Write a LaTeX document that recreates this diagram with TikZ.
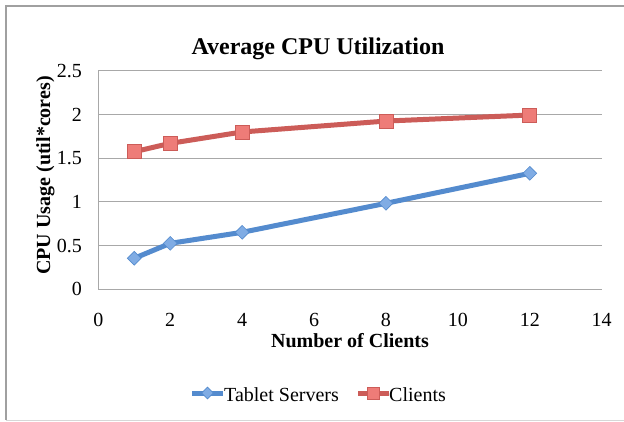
\documentclass[tikz,border=0pt]{standalone}
\usepackage{fontspec}
\setmainfont{Liberation Serif}
\usetikzlibrary{shapes.geometric}
\definecolor{gridgray}{RGB}{168,168,168}
\definecolor{framegray}{RGB}{160,160,160}
\definecolor{framelight}{RGB}{215,215,215}
\definecolor{tsblue}{RGB}{84,139,206}
\definecolor{tsfill}{RGB}{128,172,228}
\definecolor{clred}{RGB}{204,92,88}
\definecolor{clfill}{RGB}{238,124,120}

\begin{document}
\begin{tikzpicture}[x=1pt,y=-1pt,
        grid line/.style={draw=gridgray, line width=1pt},
        tick label/.style={font=\fontsize{20}{24}\selectfont, inner sep=0pt},
        axis title/.style={font=\bfseries\fontsize{20}{24}\selectfont, inner sep=0pt},
        ts line/.style={tsblue, line width=5pt, line join=round, line cap=round},
        cl line/.style={clred, line width=5pt, line join=round, line cap=round},
        ts marker/.style={diamond, fill=tsfill, draw=tsblue, line width=0.6pt, minimum size=14pt, inner sep=0pt},
        cl marker/.style={rectangle, fill=clfill, draw=clred, line width=0.8pt, minimum size=14pt, inner sep=0pt}]
            \useasboundingbox (0,0) rectangle (624,421);
            \clip (0,0) rectangle (624,421);
            \fill[white] (0,0) rectangle (624,421);
            \draw[framegray, line width=1.2pt] (640,6) -- (6,6) -- (6,420);
            \draw[framelight, line width=1.2pt] (6,420.3) -- (640,420.3);
            % title and axis titles
            \node[font=\bfseries\fontsize{24}{28}\selectfont, anchor=base, inner sep=0pt] (title) at (318,54) {Average CPU Utilization};
            \node[axis title, rotate=90, anchor=base] (ytitle) at (50,175.5) {CPU Usage (util*cores)};
            \node[axis title, anchor=base] (xtitle) at (350,347) {Number of Clients};
            \begin{scope}[shift={(98.3,289.3)}, x=35.96pt, y=87.4pt]
                % grid and axes
                \draw[grid line] (0,0.5) -- (14,0.5);
                \draw[grid line] (0,1) -- (14,1);
                \draw[grid line] (0,1.5) -- (14,1.5);
                \draw[grid line] (0,2) -- (14,2);
                \draw[grid line] (0,2.5) -- (14,2.5);
                \draw[grid line] (0,2.5) -- (0,0) -- (14,0);
                % y tick labels
                \node[tick label, anchor=east] (y0) at (-0.45,0) {0};
                \node[tick label, anchor=east] (y05) at (-0.45,0.5) {0.5};
                \node[tick label, anchor=east] (y1) at (-0.45,1) {1};
                \node[tick label, anchor=east] (y15) at (-0.45,1.5) {1.5};
                \node[tick label, anchor=east] (y2) at (-0.45,2) {2};
                \node[tick label, anchor=east] (y25) at (-0.45,2.5) {2.5};
                % x tick labels
                \node[tick label, anchor=base] (x0) at (0,-0.42) {0};
                \node[tick label, anchor=base] (x2) at (2,-0.42) {2};
                \node[tick label, anchor=base] (x4) at (4,-0.42) {4};
                \node[tick label, anchor=base] (x6) at (6,-0.42) {6};
                \node[tick label, anchor=base] (x8) at (8,-0.42) {8};
                \node[tick label, anchor=base] (x10) at (10,-0.42) {10};
                \node[tick label, anchor=base] (x12) at (12,-0.42) {12};
                \node[tick label, anchor=base] (x14) at (14,-0.42) {14};
                % tablet servers
                \coordinate (tsp1) at (1,0.355);
                \coordinate (tsp2) at (2,0.526);
                \coordinate (tsp3) at (4,0.652);
                \coordinate (tsp4) at (8,0.984);
                \coordinate (tsp5) at (12,1.327);
                \draw[ts line] (tsp1) -- (tsp2) -- (tsp3) -- (tsp4) -- (tsp5);
                \node[ts marker] (ts1) at (tsp1) {};
                \node[ts marker] (ts2) at (tsp2) {};
                \node[ts marker] (ts3) at (tsp3) {};
                \node[ts marker] (ts4) at (tsp4) {};
                \node[ts marker] (ts5) at (tsp5) {};
                % clients
                \coordinate (clp1) at (1,1.574);
                \coordinate (clp2) at (2,1.670);
                \coordinate (clp3) at (4,1.800);
                \coordinate (clp4) at (8,1.925);
                \coordinate (clp5) at (12,1.994);
                \draw[cl line] (clp1) -- (clp2) -- (clp3) -- (clp4) -- (clp5);
                \node[cl marker] (cl1) at (clp1) {};
                \node[cl marker] (cl2) at (clp2) {};
                \node[cl marker] (cl3) at (clp3) {};
                \node[cl marker] (cl4) at (clp4) {};
                \node[cl marker] (cl5) at (clp5) {};
            \end{scope}
            % legend
            \coordinate (tsleg1) at (192,393);
            \coordinate (tsleg2) at (223,393);
            \draw[ts line, line cap=butt] (tsleg1) -- (tsleg2);
            \node[ts marker, minimum size=12pt] (tsleg) at (207.5,393) {};
            \node[tick label, anchor=base west] (tstext) at (224,401) {Tablet Servers};
            \coordinate (clleg1) at (358,393);
            \coordinate (clleg2) at (389,393);
            \draw[cl line, line cap=butt] (clleg1) -- (clleg2);
            \node[cl marker, minimum size=12pt] (clleg) at (373.5,393) {};
            \node[tick label, anchor=base west] (cltext) at (389,401) {Clients};
        \end{tikzpicture}
\end{document}
